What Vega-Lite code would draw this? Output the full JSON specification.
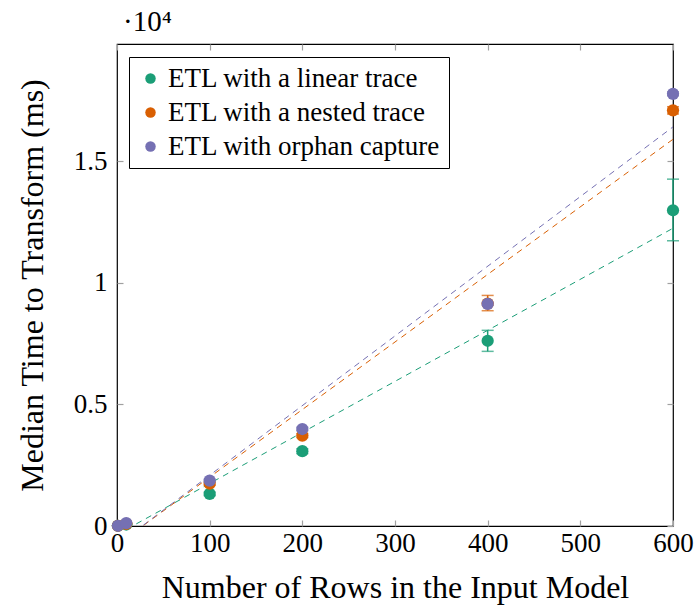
{
  "$schema": "https://vega.github.io/schema/vega-lite/v6.json",
  "width": 556,
  "height": 482,
  "autosize": {"type": "none"},
  "padding": {"left": 117, "top": 44, "right": 25, "bottom": 86},
  "background": "white",
  "title": {"text": "·10⁴", "anchor": "start", "frame": "group", "fontSize": 29, "font": "Liberation Serif", "fontWeight": "normal", "color": "black", "dx": 6, "offset": 6},
  "config": {
    "view": {"stroke": "black", "strokeWidth": 1.2},
    "font": "Liberation Serif",
    "axis": {"domain": false, "grid": false, "labelFlush": false, "tickColor": "#a0a0a0", "tickSize": -6, "tickWidth": 1.2, "labelFont": "Liberation Serif", "labelFontSize": 27, "labelColor": "black", "titleFont": "Liberation Serif", "titleFontSize": 32, "titleFontWeight": "normal", "titleColor": "black"},
    "legend": {"labelFont": "Liberation Serif", "labelFontSize": 27, "labelColor": "black"}
  },
  "datasets": {
    "pts": [
      {"series": "ETL with a linear trace", "x": 1, "y": 10, "lo": 0, "hi": 20},
      {"series": "ETL with a linear trace", "x": 10, "y": 60, "lo": 40, "hi": 80},
      {"series": "ETL with a linear trace", "x": 100, "y": 1320, "lo": 1250, "hi": 1390},
      {"series": "ETL with a linear trace", "x": 200, "y": 3080, "lo": 2980, "hi": 3180},
      {"series": "ETL with a linear trace", "x": 400, "y": 7620, "lo": 7185, "hi": 8050},
      {"series": "ETL with a linear trace", "x": 600, "y": 12990, "lo": 11735, "hi": 14270},
      {"series": "ETL with a nested trace", "x": 1, "y": 10, "lo": 0, "hi": 20},
      {"series": "ETL with a nested trace", "x": 10, "y": 90, "lo": 70, "hi": 110},
      {"series": "ETL with a nested trace", "x": 100, "y": 1740, "lo": 1680, "hi": 1800},
      {"series": "ETL with a nested trace", "x": 200, "y": 3720, "lo": 3640, "hi": 3800},
      {"series": "ETL with a nested trace", "x": 400, "y": 9150, "lo": 8857, "hi": 9486},
      {"series": "ETL with a nested trace", "x": 600, "y": 17100, "lo": 16950, "hi": 17250},
      {"series": "ETL with orphan capture", "x": 1, "y": 10, "lo": 0, "hi": 20},
      {"series": "ETL with orphan capture", "x": 10, "y": 120, "lo": 100, "hi": 140},
      {"series": "ETL with orphan capture", "x": 100, "y": 1870, "lo": 1820, "hi": 1920},
      {"series": "ETL with orphan capture", "x": 200, "y": 3990, "lo": 3920, "hi": 4060},
      {"series": "ETL with orphan capture", "x": 400, "y": 9140, "lo": 9080, "hi": 9200},
      {"series": "ETL with orphan capture", "x": 600, "y": 17780, "lo": 17700, "hi": 17860}
    ],
    "fits": [
      {"series": "ETL with a linear trace", "x": 0, "y": -350},
      {"series": "ETL with a linear trace", "x": 600, "y": 12250},
      {"series": "ETL with a nested trace", "x": 0, "y": -770},
      {"series": "ETL with a nested trace", "x": 600, "y": 15910},
      {"series": "ETL with orphan capture", "x": 0, "y": -780},
      {"series": "ETL with orphan capture", "x": 600, "y": 16420}
    ]
  },
  "layer": [
    {
      "data": {"name": "fits"},
      "mark": {"type": "line", "strokeDash": [6, 5], "strokeWidth": 1, "clip": true},
      "encoding": {
        "x": {"field": "x", "type": "quantitative", "scale": {"domain": [0, 600], "nice": false}, "axis": {"orient": "top", "labels": false, "title": null, "values": [0, 100, 200, 300, 400, 500, 600]}},
        "y": {"field": "y", "type": "quantitative", "scale": {"domain": [0, 19830], "nice": false}, "axis": {"orient": "right", "labels": false, "title": null, "values": [0, 5000, 10000, 15000]}},
        "stroke": {"field": "series", "type": "nominal", "scale": {"range": ["#1b9e77", "#d95f02", "#7570b3"]}, "legend": null},
        "detail": {"field": "series"}
      }
    },
    {
      "data": {"name": "pts"},
      "mark": {"type": "rule", "strokeWidth": 1.5},
      "encoding": {
        "x": {"field": "x", "type": "quantitative", "axis": null},
        "y": {"field": "lo", "type": "quantitative", "axis": null},
        "y2": {"field": "hi"},
        "stroke": {"field": "series", "type": "nominal", "legend": null}
      }
    },
    {
      "data": {"name": "pts"},
      "mark": {"type": "tick", "orient": "horizontal", "size": 12, "thickness": 1.5},
      "encoding": {
        "x": {"field": "x", "type": "quantitative", "axis": null},
        "y": {"field": "lo", "type": "quantitative", "axis": null},
        "fill": {"field": "series", "type": "nominal", "scale": {"range": ["#1b9e77", "#d95f02", "#7570b3"]}, "legend": null}
      }
    },
    {
      "data": {"name": "pts"},
      "mark": {"type": "tick", "orient": "horizontal", "size": 12, "thickness": 1.5},
      "encoding": {
        "x": {"field": "x", "type": "quantitative", "axis": null},
        "y": {"field": "hi", "type": "quantitative", "axis": null},
        "fill": {"field": "series", "type": "nominal", "legend": null}
      }
    },
    {
      "data": {"name": "pts"},
      "mark": {"type": "circle", "size": 150, "opacity": 1},
      "encoding": {
        "x": {"field": "x", "type": "quantitative", "axis": {"orient": "bottom", "title": "Number of Rows in the Input Model", "values": [0, 100, 200, 300, 400, 500, 600], "labelPadding": 10, "titlePadding": 16}},
        "y": {"field": "y", "type": "quantitative", "axis": {"orient": "left", "title": "Median Time to Transform (ms)", "values": [0, 5000, 10000, 15000], "labelExpr": "datum.value / 10000", "labelPadding": 16, "titlePadding": 24}},
        "color": {
          "field": "series", "type": "nominal",
          "scale": {"domain": ["ETL with a linear trace", "ETL with a nested trace", "ETL with orphan capture"], "range": ["#1b9e77", "#d95f02", "#7570b3"]},
          "legend": {"orient": "none", "legendX": 12, "legendY": 13, "title": null, "strokeColor": "black", "fillColor": "white", "padding": 8, "cornerRadius": 0, "labelFontSize": 27, "labelFont": "Liberation Serif", "labelColor": "black", "symbolType": "circle", "symbolSize": 110, "rowPadding": 6, "symbolStrokeWidth": 0, "labelLimit": 400,
            "labelExpr": "datum.label",
            "encode": {"labels": {"update": {"font": {"value": "Liberation Serif"}, "fontSize": {"value": 27}}}}}
        }
      }
    }
  ]
}
